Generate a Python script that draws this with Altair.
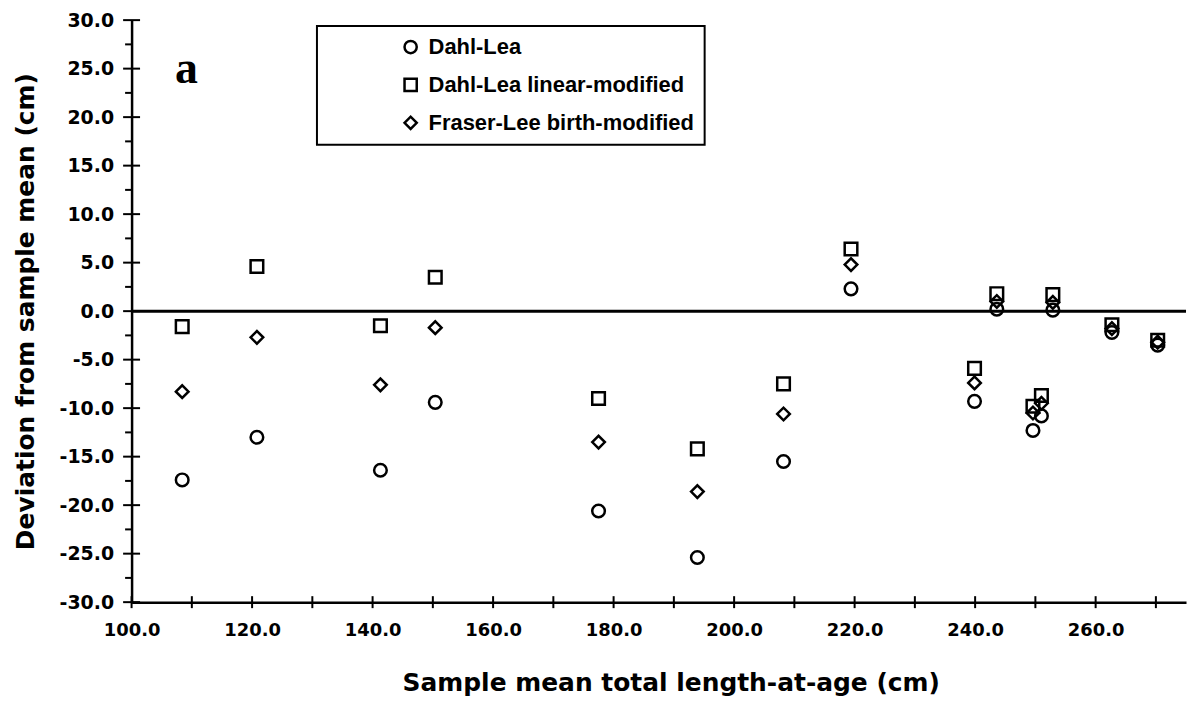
import altair as alt
import pandas as pd

# ---- data ----
x_vals = [108.4, 120.8, 141.3, 150.4, 177.5, 193.9, 208.2, 219.4, 239.9, 243.6,
          249.6, 251.0, 252.9, 262.7, 270.3]
dahl_lea = [-17.4, -13.0, -16.4, -9.4, -20.6, -25.4, -15.5, 2.3, -9.3, 0.2,
            -12.3, -10.8, 0.1, -2.2, -3.5]
dahl_lea_linear = [-1.6, 4.6, -1.5, 3.5, -9.0, -14.2, -7.5, 6.4, -5.9, 1.8,
                   -9.8, -8.7, 1.7, -1.4, -3.0]
fraser_lee_birth = [-8.3, -2.7, -7.6, -1.7, -13.5, -18.6, -10.6, 4.8, -7.4, 1.0,
                    -10.5, -9.5, 0.9, -1.8, -3.2]
methods = ["Dahl-Lea", "Dahl-Lea linear-modified", "Fraser-Lee birth-modified"]
shapes = ["circle", "square", "diamond"]

x_label_values = [100, 120, 140, 160, 180, 200, 220, 240, 260]
x_tick_values = [100, 110, 120, 130, 140, 150, 160, 170, 180, 190, 200, 210,
                 220, 230, 240, 250, 260, 270]
y_major_values = [-30, -25, -20, -15, -10, -5, 0, 5, 10, 15, 20, 25, 30]
y_minor_values = [-27.5, -22.5, -17.5, -12.5, -7.5, -2.5, 2.5, 7.5, 12.5,
                  17.5, 22.5, 27.5]
x_domain = [100, 275]
y_domain = [-30, 30]
panel_label = "a"
panel_label_pos = (109.1, 23.5)

# ---- tables ----
rows = []
for name, vals in zip(methods, [dahl_lea, dahl_lea_linear, fraser_lee_birth]):
    for xv, yv in zip(x_vals, vals):
        rows.append({"x": xv, "y": yv, "method": name})
df = pd.DataFrame(rows)

df_ymaj = pd.DataFrame({"x": [x_domain[0]] * len(y_major_values), "y": y_major_values})
df_ymin = pd.DataFrame({"x": [x_domain[0]] * len(y_minor_values), "y": y_minor_values})
df_xt = pd.DataFrame({"x": x_tick_values, "y": [y_domain[0]] * len(x_tick_values)})
df_zero = pd.DataFrame({"y": [0]})
df_lab = pd.DataFrame({"x": [panel_label_pos[0]], "y": [panel_label_pos[1]], "t": [panel_label]})

xscale = alt.Scale(domain=x_domain, nice=False, zero=False)
yscale = alt.Scale(domain=y_domain, nice=False, zero=False)

tick_font = "DejaVu Sans"
hyphen_expr = "replace(datum.label, '\u2212', '-')"

x_axis = alt.Axis(
    values=x_label_values, format=".1f", ticks=False, tickSize=0, grid=False,
    domain=True, domainColor="black", domainWidth=2.5,
    labelFont=tick_font, labelFontWeight="bold", labelFontSize=18, labelColor="black",
    labelPadding=19, labelFlush=False,
    title="Sample mean total length-at-age (cm)", titleFont=tick_font,
    titleFontWeight="bold", titleFontSize=25, titleColor="black",
    titleX=541, titleY=81, titleBaseline="middle",
)
y_axis = alt.Axis(
    values=y_major_values, format=".1f", ticks=False, tickSize=0, grid=False,
    domain=True, domainColor="black", domainWidth=2.5,
    labelFont=tick_font, labelFontWeight="bold", labelFontSize=19, labelColor="black",
    labelPadding=18, labelFlush=False, labelExpr=hyphen_expr,
    title="Deviation from sample mean (cm)", titleFont=tick_font,
    titleFontWeight="bold", titleFontSize=25, titleColor="black",
    titleX=-106, titleBaseline="middle",
)

X = lambda f: alt.X(f, scale=xscale, axis=x_axis)
Y = lambda f: alt.Y(f, scale=yscale, axis=y_axis)

points = alt.Chart(df).mark_point(filled=False, color="black", strokeWidth=2.5,
                                  opacity=1, size=160).encode(
    x=X("x:Q"),
    y=Y("y:Q"),
    shape=alt.Shape(
        "method:N",
        scale=alt.Scale(domain=methods, range=shapes),
        legend=alt.Legend(
            orient="none", legendX=186, legendY=6, title=None,
            labelFont="Liberation Sans", labelFontWeight="bold", labelFontSize=22,
            labelColor="black", labelLimit=500,
            symbolStrokeColor="black", symbolStrokeWidth=2.5,
            symbolFillColor="transparent", symbolSize=150, symbolOffset=73,
            labelOffset=7, padding=10, rowPadding=14, strokeColor="black",
            symbolOpacity=1,
        ),
    ),
)

zero_rule = alt.Chart(df_zero).mark_rule(color="black", strokeWidth=3).encode(
    y=Y("y:Q")
)

y_major = alt.Chart(df_ymaj).mark_tick(orient="horizontal", size=17, thickness=2,
                                        color="black", opacity=1).encode(
    x=X("x:Q"), y=Y("y:Q"),
)
y_minor = alt.Chart(df_ymin).mark_tick(orient="horizontal", size=6, thickness=2,
                                        color="black", xOffset=-3.5, opacity=1).encode(
    x=X("x:Q"), y=Y("y:Q"),
)
x_ticks = alt.Chart(df_xt).mark_tick(orient="vertical", size=12, thickness=2,
                                      color="black", opacity=1).encode(
    x=X("x:Q"), y=Y("y:Q"),
)

label = alt.Chart(df_lab).mark_text(font="Liberation Serif", fontWeight="bold",
                                    fontSize=46, baseline="alphabetic",
                                    align="center", color="black").encode(
    x=X("x:Q"), y=Y("y:Q"),
    text="t:N",
)

chart = alt.layer(zero_rule, y_major, y_minor, x_ticks, points, label).properties(
    width=1058, height=584,
    autosize=alt.AutoSizeParams(type="none"),
    padding={"left": 124, "top": 11, "right": 4, "bottom": 95},
    background="white",
).configure_view(stroke=None).configure_legend(strokeWidth=2)

chart.save("out.html", embed_options={"renderer": "svg", "actions": False})
